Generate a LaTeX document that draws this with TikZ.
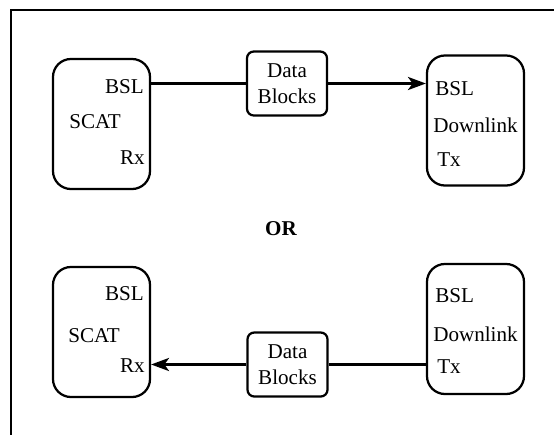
\documentclass[tikz,border=0pt]{standalone}
\usepackage{fontspec}
\setmainfont{Liberation Serif}
\usetikzlibrary{arrows.meta, positioning}

\begin{document}
\begin{tikzpicture}[x=0.025cm, y=-0.025cm]
	\tikzstyle{unit}=[rectangle, rounded corners=0.45cm, line width=1.6pt, draw=black, minimum width=2.425cm, minimum height=3.25cm]
\tikzstyle{block}=[rectangle, rounded corners=0.17cm, line width=1.6pt, draw=black, minimum width=2.0cm, minimum height=1.6cm, align=center, font=\fontsize{15}{18.5}\selectfont]
\tikzstyle{word}=[inner sep=0pt, font=\fontsize{15}{18}\selectfont]
\tikzstyle{connect}=[-{Stealth[length=0.45cm, width=0.33cm, inset=0.12cm]}, line width=1.6pt]
\useasboundingbox (0,0) rectangle (554,435);
\draw[line width=1.6pt] (11,435) -- (11,10) -- (554,10);
% upper case
\node[unit] (scat1) at (101.5,124) {};
\node[unit] (down1) at (475.5,120.5) {};
\node[block] (data1) at (287,83.5) {Data\\Blocks};
\node[word, anchor=base east] (bsl1) at (144,93) {BSL};
\node[word, anchor=base west] (name1) at (69,128) {SCAT};
\node[word, anchor=base east] (rx1) at (145,164) {Rx};
\node[word, anchor=base west] (bsl2) at (435,95) {BSL};
\node[word, anchor=base west] (name2) at (433,132) {Downlink};
\node[word, anchor=base west] (tx1) at (437,166) {Tx};
\node[word, anchor=base, font=\fontsize{15}{18}\selectfont\bfseries] (or) at (281,235) {OR};
% lower case
\node[unit] (scat2) at (101.5,332) {};
\node[unit] (down2) at (475.5,329) {};
\node[block] (data2) at (287.5,364.5) {Data\\Blocks};
\node[word, anchor=base east] (bsl3) at (144,300) {BSL};
\node[word, anchor=base west] (name3) at (68,342) {SCAT};
\node[word, anchor=base east] (rx2) at (145,372) {Rx};
\node[word, anchor=base west] (bsl4) at (435,302) {BSL};
\node[word, anchor=base west] (name4) at (433,341) {Downlink};
\node[word, anchor=base west] (tx2) at (437,373) {Tx};
\draw[line width=1.6pt] (data1.west -| scat1.east) -- (data1.west);
\draw[connect] (data1.east) -- (data1.east -| down1.west);
\draw[line width=1.6pt] (data2.east -| down2.west) -- (data2.east);
\draw[connect] (data2.west) -- (data2.west -| scat2.east);
\end{tikzpicture}
\end{document}
